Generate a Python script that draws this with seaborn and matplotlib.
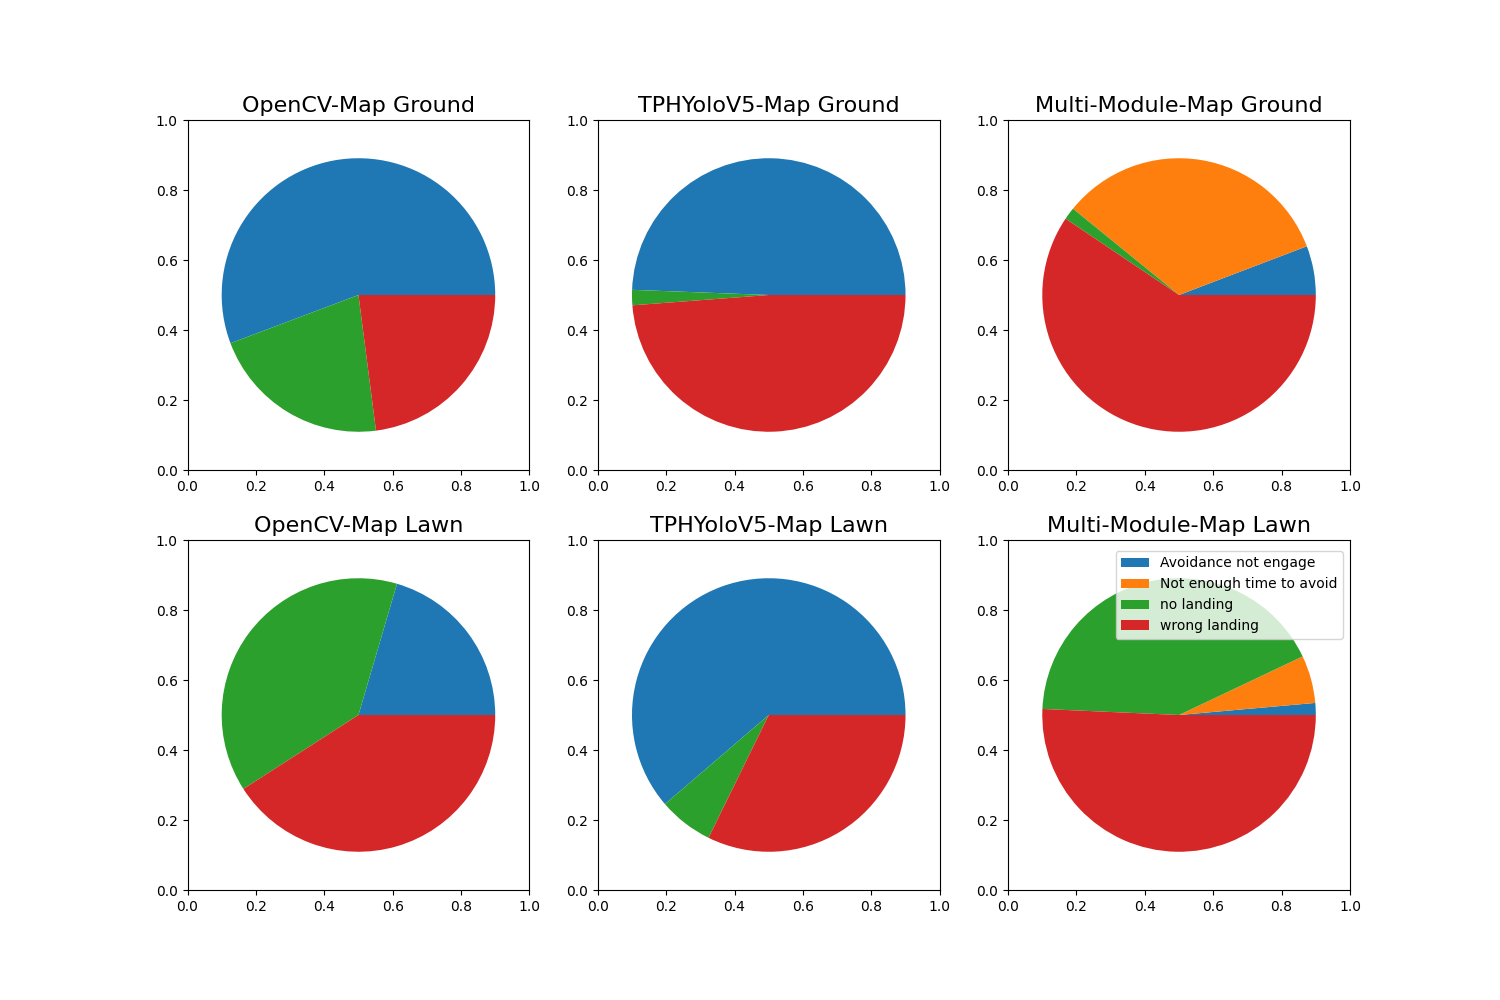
import numpy as np
import matplotlib
matplotlib.use("Agg")
import matplotlib.pyplot as plt
import matplotlib.transforms as mtransforms
import seaborn as sns

# categories
labels = ["Avoidance not engage", "Not enough time to avoid", "no landing", "wrong landing"]

# counts per scenario (read from the wedges)
opencv_ground = [34, 0, 13, 14]
tph_ground = [82, 0, 3, 81]
multi_ground = [4, 23, 1, 41]
opencv_lawn = [9, 0, 17, 18]
tph_lawn = [19, 0, 2, 10]
multi_lawn = [1, 4, 30, 36]

titles = ["OpenCV-Map Ground", "TPHYoloV5-Map Ground", "Multi-Module-Map Ground",
          "OpenCV-Map Lawn", "TPHYoloV5-Map Lawn", "Multi-Module-Map Lawn"]
data = [opencv_ground, tph_ground, multi_ground, opencv_lawn, tph_lawn, multi_lawn]

colors = sns.color_palette("tab10", 4)

fig, axes = plt.subplots(2, 3, figsize=(15, 10), dpi=100)
for ax, vals, title in zip(axes.flat, data, titles):
    wedges, _ = ax.pie(vals, colors=colors, center=(0.5, 0.5), radius=0.4, frame=True)
    ax.set_aspect("auto")
    ax.set_xlim(0, 1)
    ax.set_ylim(0, 1)
    ax.set_xticks(np.arange(0, 1.01, 0.2))
    ax.set_yticks(np.arange(0, 1.01, 0.2))
    ax.set_title(title, fontsize=16)

    # keep the pie round on screen while the box stays non-square
    pos = ax.get_position()
    s = (pos.width * fig.get_figwidth()) / (pos.height * fig.get_figheight())
    squash = mtransforms.Affine2D().translate(-0.5, -0.5).scale(1, s).translate(0.5, 0.5)
    for w in wedges:
        w.set_transform(squash + ax.transData)

axes[1, 2].legend(wedges, labels, loc="upper right", bbox_to_anchor=(1.0, 0.989))

plt.savefig("out.png")
